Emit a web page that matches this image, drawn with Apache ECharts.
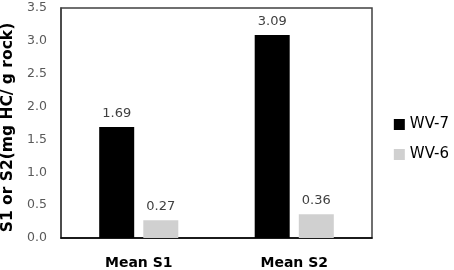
<!DOCTYPE html>
<html><head><meta charset="utf-8">
<script src="https://cdn.jsdelivr.net/npm/echarts@6/dist/echarts.min.js"></script>
<style>html,body{margin:0;padding:0;background:#fff}#c{width:454px;height:270px}</style>
</head><body><div id="c"></div>
<script>
const categories = ['Mean S1', 'Mean S2'];
const wv7 = [1.69, 3.09];
const wv6 = [0.27, 0.36];
const yTicks = [0, 0.5, 1.0, 1.5, 2.0, 2.5, 3.0, 3.5];
const seriesNames = ['WV-7', 'WV-6'];

const chart = echarts.init(document.getElementById('c'), null, {renderer: 'canvas'});
const lbl = {show: true, position: 'top', distance: 7, color: '#404040', fontSize: 13,
  fontFamily: 'DejaVu Sans', formatter: p => p.value.toFixed(2)};
chart.setOption({
  animation: false,
  grid: {left: 61, right: 82, top: 8, bottom: 32, containLabel: false, outerBoundsMode: 'none',
    show: true, borderColor: '#404040', borderWidth: 1.5, backgroundColor: 'transparent'},
  legend: {
    orient: 'vertical', right: 0, top: 112, itemWidth: 11, itemHeight: 11, itemGap: 15,
    textStyle: {fontSize: 15, color: '#000', fontFamily: 'DejaVu Sans'},
    data: [{name: seriesNames[0], icon: 'rect'}, {name: seriesNames[1], icon: 'rect'}]
  },
  xAxis: {
    type: 'category', data: categories,
    axisLine: {lineStyle: {color: '#000', width: 1.5}},
    axisTick: {show: false},
    axisLabel: {fontSize: 14, fontWeight: 'bold', color: '#000', margin: 18, fontFamily: 'DejaVu Sans'}
  },
  yAxis: {
    type: 'value', min: 0, max: 3.5, interval: 0.5,
    name: 'S1 or S2(mg HC/ g rock)', nameLocation: 'middle', nameGap: 38,
    nameTextStyle: {fontSize: 15.5, fontWeight: 'bold', color: '#000', fontFamily: 'DejaVu Sans',
      padding: [0, 9, 0, 0]},
    axisLine: {show: true, lineStyle: {color: '#404040', width: 1.5}},
    axisTick: {show: false},
    splitLine: {show: false},
    axisLabel: {fontSize: 12.5, color: '#595959', margin: 14, fontFamily: 'DejaVu Sans',
      formatter: v => yTicks.includes(v) ? v.toFixed(1) : ''}
  },
  series: [
    {name: seriesNames[0], type: 'bar', data: wv7, barWidth: 35, barGap: '26%',
     itemStyle: {color: '#000'}, label: lbl},
    {name: seriesNames[1], type: 'bar', data: wv6, barWidth: 35,
     itemStyle: {color: '#d0d0d0'}, label: lbl}
  ]
});
</script></body></html>
